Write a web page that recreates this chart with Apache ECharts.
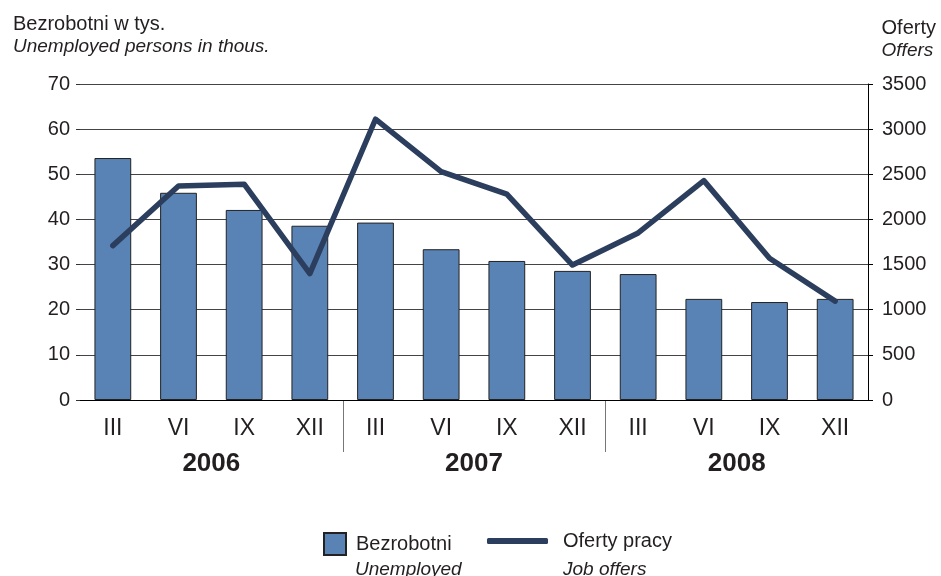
<!DOCTYPE html>
<html>
<head>
<meta charset="utf-8">
<script src="https://cdn.jsdelivr.net/npm/echarts@6/dist/echarts.min.js"></script>
<style>
  html, body { margin: 0; padding: 0; background: #fff; }
  #chart { width: 941px; height: 576px; }
</style>
</head>
<body>
<div id="chart"></div>
<script>
// data
var months = ['III', 'VI', 'IX', 'XII', 'III', 'VI', 'IX', 'XII', 'III', 'VI', 'IX', 'XII']
var years = ['2006', '2007', '2008']
var unemployed = [53.6, 45.9, 42.1, 38.6, 39.3, 33.4, 30.8, 28.6, 27.9, 22.4, 21.7, 22.4]
var jobOffers = [1710, 2370, 2390, 1400, 3110, 2530, 2280, 1495, 1850, 2430, 1570, 1095]

var sans = '"Liberation Sans", Arial, sans-serif'
var txt = '#231f20'

var chart = echarts.init(document.getElementById('chart'))

var option = {
  animation: false,
  textStyle: { fontFamily: sans },
  title: [
    {
      text: 'Bezrobotni w tys.',
      subtext: 'Unemployed persons in thous.',
      left: 8, top: 9, itemGap: 3,
      textStyle: { fontSize: 20, fontWeight: 'normal', color: txt, fontFamily: sans },
      subtextStyle: { fontSize: 19, fontStyle: 'italic', color: txt, fontFamily: sans }
    },
    {
      text: 'Oferty',
      subtext: 'Offers',
      right: 0, top: 13, itemGap: 3,
      textStyle: { fontSize: 20, fontWeight: 'normal', color: txt, fontFamily: sans },
      subtextStyle: { fontSize: 19, fontStyle: 'italic', color: txt, fontFamily: sans }
    }
  ],
  legend: [
    {
      data: [{ name: 'Bezrobotni', icon: 'rect' }],
      left: 323, top: 532, padding: 0,
      itemWidth: 22, itemHeight: 22,
      textStyle: { fontSize: 20, color: txt, padding: [0, 0, 0, 5], fontFamily: sans }
    },
    {
      data: [{ name: 'Oferty pracy', icon: 'roundRect' }],
      left: 487, top: 531, padding: 0,
      itemWidth: 61, itemHeight: 6,
      textStyle: { fontSize: 20, color: txt, padding: [0, 0, 0, 10], fontFamily: sans }
    }
  ],
  grid: { left: 80, right: 73, top: 84, bottom: 176 },
  xAxis: [
    {
      type: 'category',
      data: months,
      axisLine: { lineStyle: { color: '#000', width: 1 } },
      axisTick: { length: 4, lineStyle: { color: '#333' } },
      axisLabel: { fontSize: 23, color: txt, margin: 17 }
    },
    {
      type: 'category',
      data: years,
      position: 'bottom',
      axisLine: { show: false },
      axisTick: { show: false },
      axisLabel: { fontSize: 26, fontWeight: 'bold', color: txt, margin: 51 }
    }
  ],
  yAxis: [
    {
      type: 'value',
      min: 0, max: 70, interval: 10,
      axisLine: { show: false },
      axisTick: { show: true, length: 4, lineStyle: { color: '#333' } },
      axisLabel: { fontSize: 20, color: txt, margin: 10 },
      splitLine: { lineStyle: { color: '#444', width: 1 } }
    },
    {
      type: 'value',
      min: 0, max: 3500, interval: 500,
      position: 'right',
      axisLine: { show: true, lineStyle: { color: '#000', width: 1 } },
      axisTick: { show: true, length: 5, lineStyle: { color: '#000' } },
      axisLabel: { fontSize: 20, color: txt, margin: 14, formatter: function (v) { return String(v) } },
      splitLine: { show: false }
    }
  ],
  series: [
    {
      name: 'Bezrobotni',
      type: 'bar',
      data: unemployed,
      barWidth: '56%',
      itemStyle: { color: '#5a83b5', borderColor: '#222', borderWidth: 1 }
    },
    {
      name: 'Oferty pracy',
      type: 'line',
      yAxisIndex: 1,
      data: jobOffers,
      symbol: 'none',
      lineStyle: { color: '#2c3e5d', width: 5.5, join: 'round', cap: 'round' },
      itemStyle: { color: '#2c3e5d' }
    }
  ]
}

chart.setOption(option)

// year separators between XII and III, placed through the category axis
var y0 = chart.convertToPixel({ yAxisIndex: 0 }, 0)
var gfx = [
  { type: 'text', left: 355, top: 560, style: { text: 'Unemployed', fontSize: 19, fontStyle: 'italic', fill: txt, fontFamily: sans } },
  { type: 'text', left: 563, top: 560, style: { text: 'Job offers', fontSize: 19, fontStyle: 'italic', fill: txt, fontFamily: sans } }
]
;[3, 7].forEach(function (i) {
  var xa = chart.convertToPixel({ xAxisIndex: 0 }, i)
  var xb = chart.convertToPixel({ xAxisIndex: 0 }, i + 1)
  var x = Math.round((xa + xb) / 2) + 0.5
  gfx.push({
    type: 'line',
    shape: { x1: x, y1: y0, x2: x, y2: y0 + 52 },
    style: { stroke: '#777', lineWidth: 1 }
  })
})
chart.setOption({ graphic: gfx })
</script>
</body>
</html>
